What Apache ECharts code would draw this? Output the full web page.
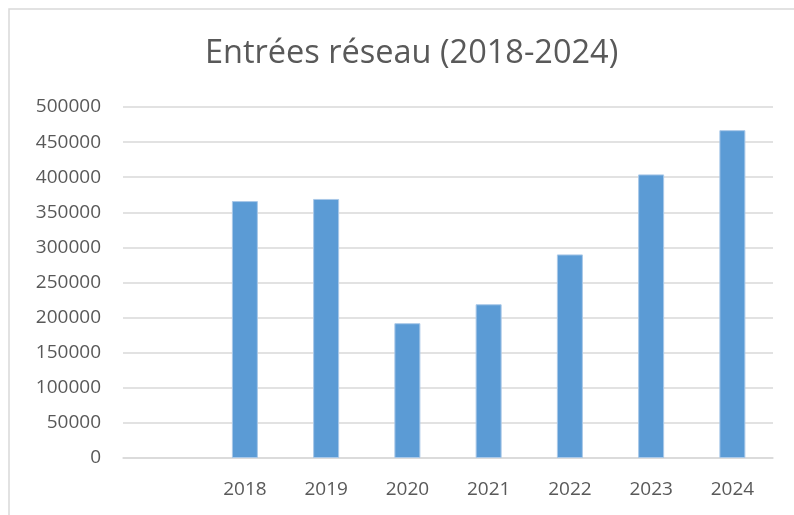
<!DOCTYPE html>
<html>
<head>
<meta charset="utf-8">
<script src="https://cdn.jsdelivr.net/npm/echarts@6/dist/echarts.min.js"></script>
<style>
  html, body { margin: 0; padding: 0; background: #fff; }
  #chart { width: 794px; height: 515px; }
</style>
</head>
<body>
<div id="chart"></div>
<script>
// first category is empty in the original sheet
var years = ['', '2018', '2019', '2020', '2021', '2022', '2023', '2024']
var entrees = [null, 366000, 369000, 192000, 219000, 290000, 404000, 467000]
var yTicks = { min: 0, max: 500000, step: 50000 }

var chart = echarts.init(document.getElementById('chart'))

var option = {
    backgroundColor: '#fff',
    animation: false,
    title: {
        text: 'Entrées réseau (2018-2024)',
        left: 200,
        top: 32,
        textStyle: {
            fontFamily: 'Open Sans',
            fontSize: 32.5,
            fontWeight: 'normal',
            color: '#595959'
        }
    },
    graphic: [{
        type: 'rect',
        shape: { x: 9, y: 9, width: 900, height: 600 },
        style: { fill: 'none', stroke: '#d9d9d9', lineWidth: 1.5 },
        silent: true
    }],
    grid: {
        left: 123,
        right: 21,
        top: 107,
        bottom: 57,
        containLabel: false
    },
    xAxis: {
        type: 'category',
        data: years,
        axisLine: { lineStyle: { color: '#d9d9d9', width: 1.5 } },
        axisTick: { show: false },
        axisLabel: {
            interval: 0,
            margin: 22,
            color: '#595959',
            fontFamily: 'Open Sans',
            fontSize: 19
        }
    },
    yAxis: {
        type: 'value',
        min: yTicks.min,
        max: yTicks.max,
        interval: yTicks.step,
        axisLine: { show: false },
        axisTick: { show: false },
        axisLabel: {
            margin: 22,
            color: '#595959',
            fontFamily: 'Open Sans',
            fontSize: 19,
            formatter: function (v) { return String(v) }
        },
        splitLine: { lineStyle: { color: '#d9d9d9', width: 1.5 } }
    },
    series: [{
        type: 'bar',
        data: entrees,
        barWidth: 26,
        itemStyle: {
            color: '#5b9bd5',
            borderColor: '#a9c8e8',
            borderWidth: 1
        }
    }]
}

chart.setOption(option)
</script>
</body>
</html>
